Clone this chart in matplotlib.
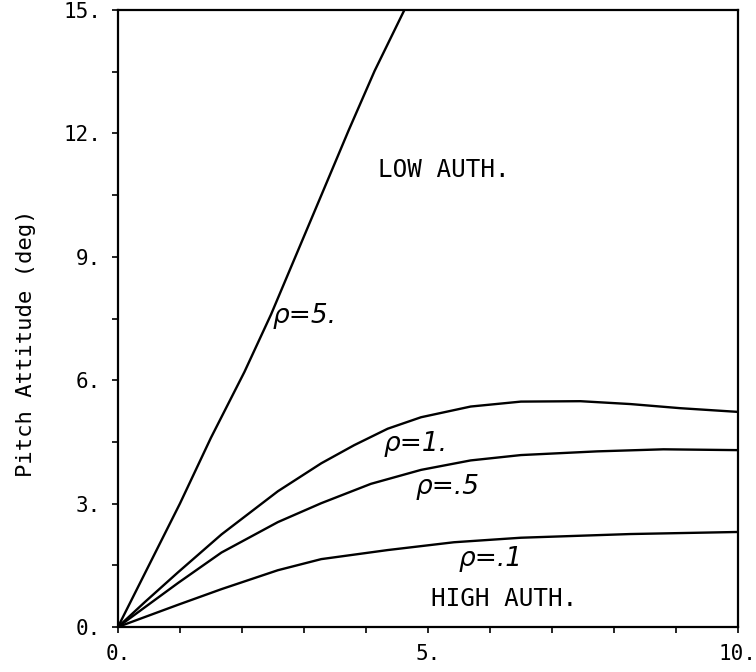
import numpy as np
import matplotlib
matplotlib.use("Agg")
from matplotlib import pyplot as plt

# values (x unitless 0..10, pitch attitude in deg)
x_rho5 = [0.0, 0.5, 1.0, 1.5, 2.04, 2.47, 3.29, 3.72, 4.14, 4.62]
y_rho5 = [0.0, 1.5, 3.0, 4.6, 6.2, 7.6, 10.53, 12.07, 13.52, 15.0]

x_rho1 = [0.0, 0.43, 0.97, 1.67, 2.58, 3.28, 3.81, 4.35, 4.89, 5.69, 6.50, 7.46, 8.27, 9.07, 10.0]
y_rho1 = [0.0, 0.60, 1.33, 2.25, 3.30, 3.98, 4.42, 4.82, 5.10, 5.36, 5.48, 5.49, 5.42, 5.32, 5.23]

x_rho05 = [0.0, 0.97, 1.67, 2.58, 3.28, 4.08, 4.89, 5.69, 6.50, 7.73, 8.80, 10.0]
y_rho05 = [0.0, 1.07, 1.81, 2.55, 3.01, 3.48, 3.82, 4.05, 4.18, 4.27, 4.32, 4.30]

x_rho01 = [0.0, 0.97, 1.67, 2.58, 3.28, 4.35, 5.42, 6.50, 8.27, 10.0]
y_rho01 = [0.0, 0.54, 0.92, 1.38, 1.65, 1.87, 2.06, 2.17, 2.26, 2.31]

xticks = [0, 5, 10]
xtick_labels = ["0.", "5.", "10."]
yticks = [0, 3, 6, 9, 12, 15]
ytick_labels = ["0.", "3.", "6.", "9.", "12.", "15."]

mono = "DejaVu Sans Mono"

fig = plt.figure(figsize=(7.56, 6.72), dpi=100)
ax = fig.add_axes([0.156, 0.067, 0.820, 0.918])

for xs, ys in [(x_rho5, y_rho5), (x_rho1, y_rho1), (x_rho05, y_rho05), (x_rho01, y_rho01)]:
    ax.plot(xs, ys, color="black", lw=1.7, solid_capstyle="round", solid_joinstyle="round")

ax.set_xlim(0, 10)
ax.set_ylim(0, 15)

ax.set_xticks(xticks)
ax.set_xticklabels(xtick_labels, fontfamily=mono, fontsize=15)
ax.set_xticks(np.arange(0, 11, 1), minor=True)
ax.set_yticks(yticks)
ax.set_yticklabels(ytick_labels, fontfamily=mono, fontsize=15)
ax.set_yticks(np.arange(0, 15.1, 1.5), minor=True)
ax.tick_params(which="both", direction="out", length=4, width=1.2, color="black")
ax.tick_params(axis="y", pad=8)
ax.tick_params(axis="x", pad=8)

for s in ax.spines.values():
    s.set_linewidth(1.6)

ax.set_ylabel("Pitch Attitude (deg)", fontfamily=mono, fontsize=16)
ax.yaxis.set_label_coords(-0.132, 0.46)

# region labels
ax.text(4.2, 11.1, "LOW AUTH.", fontfamily=mono, fontsize=17.5, va="center", ha="left")
ax.text(5.05, 0.67, "HIGH AUTH.", fontfamily=mono, fontsize=17.5, va="center", ha="left")

# handwritten curve labels
hand = dict(fontsize=19, style="italic", color="black", va="center", ha="left")
ax.text(2.5, 7.55, "\u03c1=5.", **hand)
ax.text(4.28, 4.45, "\u03c1=1.", **hand)
ax.text(4.8, 3.4, "\u03c1=.5", **hand)
ax.text(5.5, 1.65, "\u03c1=.1", **hand)

fig.savefig("out.png", dpi=100)
